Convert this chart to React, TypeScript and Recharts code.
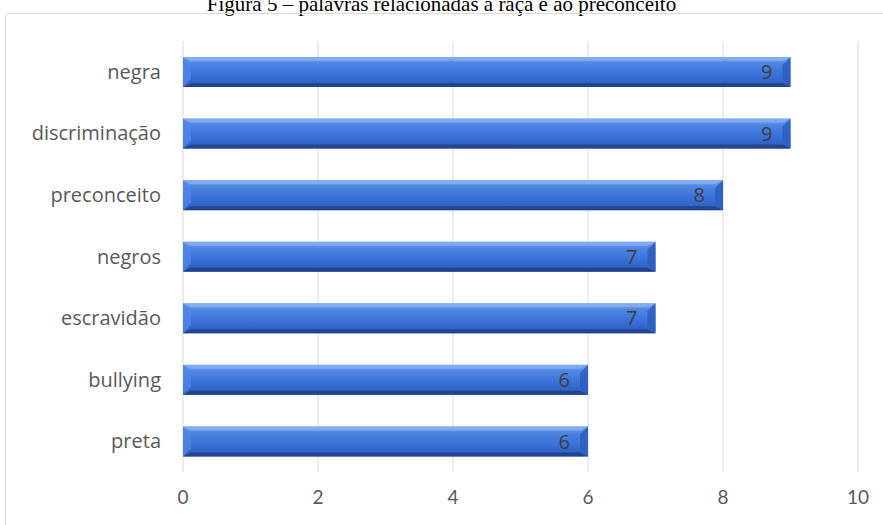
import React from 'react';
import { BarChart, Bar, XAxis, YAxis, CartesianGrid, LabelList } from 'recharts';

// Figura 5 – palavras relacionadas à raça e ao preconceito
const words = ['negra', 'discriminação', 'preconceito', 'negros', 'escravidão', 'bullying', 'preta'];
const counts = [9, 9, 8, 7, 7, 6, 6];
const xTicks = [0, 2, 4, 6, 8, 10];

const data = words.map((word, i) => ({ word, count: counts[i] }));

const BevelBar = (props: any) => {
  const { x, y, width, height } = props;
  if (!width || width <= 0) return null;
  const b = 8;
  return (
    <g>
      <rect x={x} y={y} width={width} height={height} fill="url(#barGrad)" />
      {/* top highlight */}
      <polygon
        points={`${x},${y} ${x + width},${y} ${x + width - b},${y + 4} ${x + b},${y + 4}`}
        fill="#86adf0"
        opacity={0.85}
      />
      {/* bottom shade */}
      <polygon
        points={`${x},${y + height} ${x + width},${y + height} ${x + width - b},${y + height - 4} ${x + b},${y + height - 4}`}
        fill="#213f85"
        opacity={0.85}
      />
      {/* left bevel */}
      <polygon
        points={`${x},${y} ${x + b},${y + b} ${x + b},${y + height - b} ${x},${y + height}`}
        fill="#4f86e6"
        opacity={0.8}
      />
      {/* right bevel */}
      <polygon
        points={`${x + width},${y} ${x + width - b},${y + b} ${x + width - b},${y + height - b} ${x + width},${y + height}`}
        fill="#2e5fbf"
        opacity={0.9}
      />
    </g>
  );
};

export default function App() {
  return (
    <div style={{ position: 'absolute', left: 0, top: 0, width: 883, height: 525, background: '#fff', overflow: 'hidden' }}>
      <div
        style={{
          position: 'absolute',
          left: 0,
          top: -8,
          width: 883,
          textAlign: 'center',
          fontFamily: '"Liberation Serif", "DejaVu Serif", serif',
          fontSize: 21,
          lineHeight: '24px',
          color: '#000',
        }}
      >
        Figura 5 – palavras relacionadas à raça e ao preconceito
      </div>
      <div
        style={{
          position: 'absolute',
          left: 5,
          top: 13,
          width: 900,
          height: 540,
          border: '1px solid #d9d9d9',
          borderRadius: 4,
        }}
      />
      <div style={{ position: 'absolute', left: 0, top: 0 }}>
        <BarChart
          width={883}
          height={525}
          data={data}
          layout="vertical"
          margin={{ top: 41, right: 25, bottom: 13, left: 8 }}
          barSize={30}
        >
          <defs>
            <linearGradient id="barGrad" x1="0" y1="0" x2="0" y2="1">
              <stop offset="0%" stopColor="#79a4ef" />
              <stop offset="22%" stopColor="#4d85e2" />
              <stop offset="60%" stopColor="#3a70d8" />
              <stop offset="100%" stopColor="#2c5bbd" />
            </linearGradient>
          </defs>
          <CartesianGrid horizontal={false} stroke="#d9d9d9" />
          <XAxis
            type="number"
            domain={[0, 10]}
            ticks={xTicks}
            height={40}
            axisLine={false}
            tickLine={false}
            tickMargin={13}
            tick={{ fontSize: 19, fill: '#595959', fontFamily: 'Lato, "Open Sans", sans-serif' }}
          />
          <YAxis
            type="category"
            dataKey="word"
            width={175}
            axisLine={false}
            tickLine={false}
            tickMargin={16}
            tick={{ fontSize: 20, fill: '#595959', fontFamily: '"Open Sans", sans-serif' }}
          />
          <Bar dataKey="count" shape={BevelBar} isAnimationActive={false}>
            <LabelList
              dataKey="count"
              position="insideRight"
              offset={18}
              fill="#404040"
              fontSize={20}
              fontFamily='"Open Sans", sans-serif'
            />
          </Bar>
        </BarChart>
      </div>
    </div>
  );
}
